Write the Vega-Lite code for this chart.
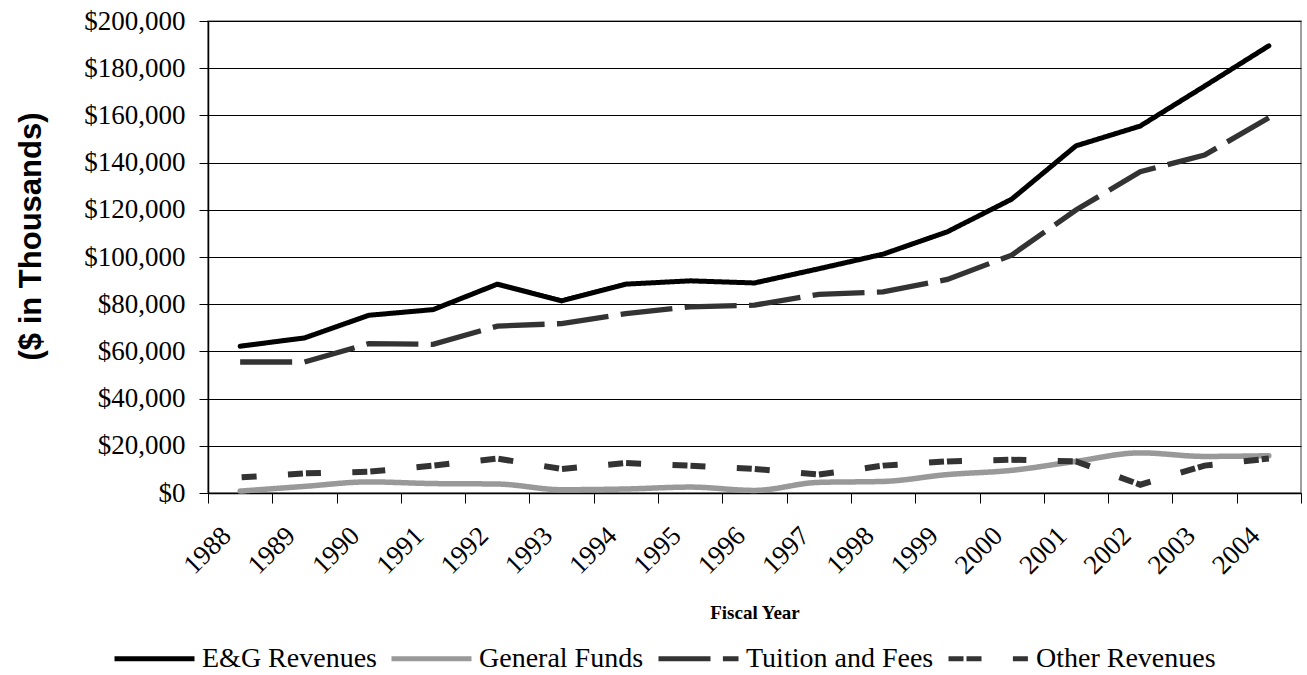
{
  "$schema": "https://vega.github.io/schema/vega-lite/v6.json",
  "width": 1093,
  "height": 472,
  "autosize": {"type": "none"},
  "padding": {"left": 208, "top": 21, "right": 6, "bottom": 182},
  "background": "white",
  "config": {
    "view": {"stroke": "#808080", "strokeWidth": 1.5},
    "font": "Liberation Serif",
    "legend": {
      "labelFont": "Liberation Serif",
      "labelFontSize": 28,
      "labelColor": "#000",
      "labelOffset": 5,
      "columnPadding": 4,
      "labelLimit": 400,
      "symbolType": "stroke",
      "symbolSize": 6400,
      "symbolStrokeWidth": 5
    }
  },
  "data": {
    "values": [
      {"year": "1988", "series": "E&G Revenues", "value": 62200},
      {"year": "1989", "series": "E&G Revenues", "value": 65700},
      {"year": "1990", "series": "E&G Revenues", "value": 75300},
      {"year": "1991", "series": "E&G Revenues", "value": 77700},
      {"year": "1992", "series": "E&G Revenues", "value": 88500},
      {"year": "1993", "series": "E&G Revenues", "value": 81400},
      {"year": "1994", "series": "E&G Revenues", "value": 88500},
      {"year": "1995", "series": "E&G Revenues", "value": 89900},
      {"year": "1996", "series": "E&G Revenues", "value": 89000},
      {"year": "1997", "series": "E&G Revenues", "value": 95000},
      {"year": "1998", "series": "E&G Revenues", "value": 101200},
      {"year": "1999", "series": "E&G Revenues", "value": 110700},
      {"year": "2000", "series": "E&G Revenues", "value": 124500},
      {"year": "2001", "series": "E&G Revenues", "value": 147100},
      {"year": "2002", "series": "E&G Revenues", "value": 155500},
      {"year": "2003", "series": "E&G Revenues", "value": 172400},
      {"year": "2004", "series": "E&G Revenues", "value": 189500},
      {"year": "1988", "series": "General Funds", "value": 800},
      {"year": "1989", "series": "General Funds", "value": 2800},
      {"year": "1990", "series": "General Funds", "value": 4700},
      {"year": "1991", "series": "General Funds", "value": 4000},
      {"year": "1992", "series": "General Funds", "value": 3800},
      {"year": "1993", "series": "General Funds", "value": 1400},
      {"year": "1994", "series": "General Funds", "value": 1700},
      {"year": "1995", "series": "General Funds", "value": 2500},
      {"year": "1996", "series": "General Funds", "value": 1100},
      {"year": "1997", "series": "General Funds", "value": 4500},
      {"year": "1998", "series": "General Funds", "value": 4900},
      {"year": "1999", "series": "General Funds", "value": 7800},
      {"year": "2000", "series": "General Funds", "value": 9600},
      {"year": "2001", "series": "General Funds", "value": 13400},
      {"year": "2002", "series": "General Funds", "value": 17000},
      {"year": "2003", "series": "General Funds", "value": 15500},
      {"year": "2004", "series": "General Funds", "value": 15800},
      {"year": "1988", "series": "Tuition and Fees", "value": 55500},
      {"year": "1989", "series": "Tuition and Fees", "value": 55500},
      {"year": "1990", "series": "Tuition and Fees", "value": 63300},
      {"year": "1991", "series": "Tuition and Fees", "value": 63000},
      {"year": "1992", "series": "Tuition and Fees", "value": 70700},
      {"year": "1993", "series": "Tuition and Fees", "value": 71800},
      {"year": "1994", "series": "Tuition and Fees", "value": 76000},
      {"year": "1995", "series": "Tuition and Fees", "value": 78900},
      {"year": "1996", "series": "Tuition and Fees", "value": 79600},
      {"year": "1997", "series": "Tuition and Fees", "value": 84200},
      {"year": "1998", "series": "Tuition and Fees", "value": 85200},
      {"year": "1999", "series": "Tuition and Fees", "value": 90500},
      {"year": "2000", "series": "Tuition and Fees", "value": 100800},
      {"year": "2001", "series": "Tuition and Fees", "value": 119900},
      {"year": "2002", "series": "Tuition and Fees", "value": 136100},
      {"year": "2003", "series": "Tuition and Fees", "value": 143200},
      {"year": "2004", "series": "Tuition and Fees", "value": 159000},
      {"year": "1988", "series": "Other Revenues", "value": 6600},
      {"year": "1989", "series": "Other Revenues", "value": 8300},
      {"year": "1990", "series": "Other Revenues", "value": 9000},
      {"year": "1991", "series": "Other Revenues", "value": 11600},
      {"year": "1992", "series": "Other Revenues", "value": 14600},
      {"year": "1993", "series": "Other Revenues", "value": 10200},
      {"year": "1994", "series": "Other Revenues", "value": 12700},
      {"year": "1995", "series": "Other Revenues", "value": 11600},
      {"year": "1996", "series": "Other Revenues", "value": 10200},
      {"year": "1997", "series": "Other Revenues", "value": 7800},
      {"year": "1998", "series": "Other Revenues", "value": 11600},
      {"year": "1999", "series": "Other Revenues", "value": 13400},
      {"year": "2000", "series": "Other Revenues", "value": 14100},
      {"year": "2001", "series": "Other Revenues", "value": 13400},
      {"year": "2002", "series": "Other Revenues", "value": 3500},
      {"year": "2003", "series": "Other Revenues", "value": 11600},
      {"year": "2004", "series": "Other Revenues", "value": 14600}
    ]
  },
  "encoding": {
    "x": {
      "field": "year",
      "type": "ordinal",
      "bandPosition": 0.5,
      "scale": {"type": "band", "paddingInner": 0, "paddingOuter": 0},
      "axis": {
        "title": "Fiscal Year",
        "labelAngle": -45,
        "labelAlign": "right",
        "labelBaseline": "top",
        "labelFont": "Liberation Serif",
        "labelFontSize": 27,
        "labelColor": "#000",
        "labelPadding": 19,
        "labelOffset": -23,
        "tickBand": "extent",
        "tickSize": 10,
        "tickColor": "#000",
        "domainColor": "#000",
        "domainWidth": 1.5,
        "grid": false,
        "titleFont": "Liberation Serif",
        "titleFontWeight": "bold",
        "titleFontSize": 19,
        "titleColor": "#000",
        "titleY": 119,
        "titleBaseline": "middle"
      }
    },
    "y": {
      "field": "value",
      "type": "quantitative",
      "scale": {"domain": [0, 200000]},
      "axis": {
        "title": "($ in Thousands)",
        "values": [0, 20000, 40000, 60000, 80000, 100000, 120000, 140000, 160000, 180000, 200000],
        "format": "$,.0f",
        "labelFont": "Liberation Serif",
        "labelFontSize": 27,
        "labelColor": "#000",
        "labelPadding": 14,
        "tickSize": 9,
        "tickColor": "#000",
        "domainColor": "#000",
        "domainWidth": 1.5,
        "grid": true,
        "gridColor": "#000",
        "gridWidth": 1,
        "titleFont": "Liberation Sans",
        "titleFontWeight": "bold",
        "titleFontSize": 31,
        "titleColor": "#000",
        "titleAngle": -90,
        "titleX": -177,
        "titleY": 215,
        "titleAlign": "center",
        "titleBaseline": "middle"
      }
    },
    "color": {
      "field": "series",
      "type": "nominal",
      "scale": {
        "domain": ["E&G Revenues", "General Funds", "Tuition and Fees", "Other Revenues"],
        "range": ["#000000", "#999999", "#333333", "#333333"]
      },
      "legend": {
        "title": null,
        "orient": "none",
        "legendX": -96,
        "legendY": 595,
        "direction": "horizontal",
        "labelFont": "Liberation Serif"
      }
    },
    "strokeDash": {
      "field": "series",
      "type": "nominal",
      "scale": {
        "domain": ["E&G Revenues", "General Funds", "Tuition and Fees", "Other Revenues"],
        "range": [[1, 0], [1, 0], [52, 12.4], [15, 3, 15, 31.4]]
      },
      "legend": {
        "title": null,
        "orient": "none",
        "legendX": -96,
        "legendY": 595,
        "direction": "horizontal",
        "labelFont": "Liberation Serif"
      }
    }
  },
  "layer": [
    {
      "transform": [{"filter": "datum.series === 'E&G Revenues'"}],
      "mark": {"type": "line", "strokeWidth": 5, "strokeCap": "round", "strokeJoin": "round"}
    },
    {
      "transform": [{"filter": "datum.series === 'General Funds'"}],
      "mark": {"type": "line", "strokeWidth": 5.5, "strokeCap": "round", "strokeJoin": "round", "interpolate": "monotone"}
    },
    {
      "transform": [{"filter": "datum.series === 'Tuition and Fees'"}],
      "mark": {"type": "line", "strokeWidth": 5.3, "strokeCap": "butt"}
    },
    {
      "transform": [{"filter": "datum.series === 'Other Revenues'"}],
      "mark": {"type": "line", "strokeWidth": 6, "strokeCap": "butt", "strokeDashOffset": 16.5}
    }
  ]
}
